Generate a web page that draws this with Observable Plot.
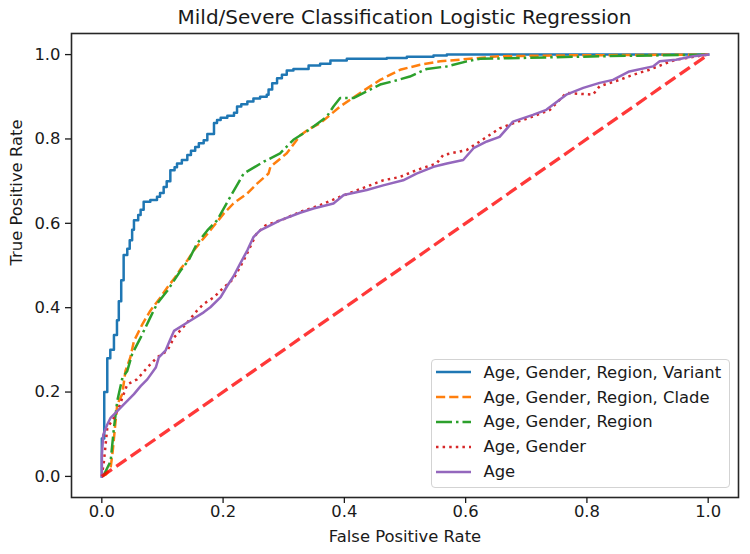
<!DOCTYPE html>
<html>
<head>
<meta charset="utf-8">
<script src="https://cdn.jsdelivr.net/npm/d3@7"></script>
<script src="https://cdn.jsdelivr.net/npm/@observablehq/plot@0.6"></script>
<style>
  body { margin: 0; background: #fff; }
  #wrap { position: relative; width: 750px; height: 554px; font-family: "DejaVu Sans", sans-serif; color: #1a1a1a; }
  #title { box-sizing: border-box; height: 32px; padding: 7px 0 0 59px; font-size: 20px; line-height: 20px; text-align: center; white-space: nowrap; }
  #chart svg { display: block; }
  #legend { position: absolute; left: 431px; top: 359px; width: 297px; height: 127px; border: 1px solid #d3d3d3; border-radius: 4px; background: rgba(255,255,255,0.85); box-sizing: content-box; }
  .row { display: flex; align-items: center; height: 24.8px; }
  .row svg { margin-left: 3.5px; flex: none; }
  .row span { margin-left: 13px; font-size: 16.4px; white-space: nowrap; }
</style>
</head>
<body>
<div id="wrap">
  <div id="title"></div>
  <div id="chart"></div>
  <div id="legend"></div>
</div>
<script>
// ---------- data ----------
const chartTitle = "Mild/Severe Classification Logistic Regression";
const xLabel = "False Positive Rate";
const yLabel = "True Positive Rate";
const xTicks = [0, 0.2, 0.4, 0.6, 0.8, 1.0];
const yTicks = [0, 0.2, 0.4, 0.6, 0.8, 1.0];
const seriesLabels = ["Age, Gender, Region, Variant", "Age, Gender, Region, Clade", "Age, Gender, Region", "Age, Gender", "Age"];

const variantFpr = [0, 0, 0.004, 0.009, 0.014, 0.02, 0.025, 0.028, 0.032, 0.036, 0.042, 0.046, 0.050, 0.053, 0.06, 0.064, 0.069, 0.08, 0.091, 0.096, 0.102, 0.107, 0.113, 0.12, 0.124, 0.132, 0.141, 0.147, 0.154, 0.16, 0.168, 0.174, 0.185, 0.19, 0.196, 0.207, 0.218, 0.223, 0.23, 0.24, 0.25, 0.261, 0.272, 0.275, 0.281, 0.289, 0.297, 0.305, 0.316, 0.33, 0.341, 0.36, 0.377, 0.404, 0.47, 0.503, 0.547, 0.569, 1.0];
const variantTpr = [0, 0.09, 0.20, 0.28, 0.30, 0.335, 0.37, 0.415, 0.465, 0.525, 0.54, 0.56, 0.585, 0.607, 0.62, 0.632, 0.651, 0.655, 0.663, 0.672, 0.686, 0.70, 0.726, 0.733, 0.742, 0.75, 0.762, 0.772, 0.781, 0.79, 0.797, 0.812, 0.838, 0.845, 0.85, 0.855, 0.862, 0.877, 0.882, 0.889, 0.896, 0.90, 0.905, 0.917, 0.932, 0.944, 0.952, 0.962, 0.966, 0.966, 0.974, 0.978, 0.986, 0.99, 0.992, 0.995, 0.998, 1.0, 1.0];

const cladeFpr = [0, 0.007, 0.0145, 0.018, 0.0227, 0.0255, 0.0337, 0.039, 0.047, 0.053, 0.067, 0.080, 0.097, 0.108, 0.121, 0.130, 0.141, 0.152, 0.163, 0.174, 0.201, 0.217, 0.240, 0.256, 0.275, 0.278, 0.305, 0.327, 0.341, 0.360, 0.393, 0.426, 0.459, 0.492, 0.525, 0.558, 0.591, 0.656, 0.75, 1.0];
const cladeTpr = [0, 0.005, 0.02, 0.06, 0.131, 0.171, 0.195, 0.25, 0.282, 0.321, 0.361, 0.393, 0.425, 0.448, 0.472, 0.492, 0.512, 0.536, 0.556, 0.575, 0.623, 0.647, 0.671, 0.694, 0.718, 0.734, 0.766, 0.808, 0.823, 0.837, 0.877, 0.909, 0.940, 0.964, 0.976, 0.984, 0.988, 0.996, 0.998, 1.0];

const regionFpr = [0, 0.0035, 0.0145, 0.02, 0.0255, 0.034, 0.042, 0.05, 0.064, 0.080, 0.091, 0.108, 0.119, 0.130, 0.143, 0.157, 0.174, 0.190, 0.212, 0.234, 0.267, 0.294, 0.316, 0.341, 0.371, 0.382, 0.393, 0.415, 0.437, 0.459, 0.481, 0.508, 0.536, 0.569, 0.602, 0.624, 0.821, 1.0];
const regionTpr = [0, 0.004, 0.036, 0.115, 0.179, 0.234, 0.25, 0.29, 0.329, 0.377, 0.409, 0.44, 0.464, 0.488, 0.512, 0.552, 0.583, 0.607, 0.663, 0.718, 0.746, 0.766, 0.798, 0.821, 0.853, 0.877, 0.897, 0.897, 0.913, 0.929, 0.937, 0.948, 0.966, 0.972, 0.984, 0.990, 0.996, 1.0];

const genderFpr = [0, 0.0035, 0.009, 0.020, 0.028, 0.036, 0.042, 0.058, 0.075, 0.091, 0.108, 0.119, 0.141, 0.157, 0.168, 0.185, 0.201, 0.217, 0.234, 0.245, 0.255, 0.27, 0.30, 0.327, 0.360, 0.393, 0.464, 0.492, 0.519, 0.552, 0.563, 0.602, 0.635, 0.656, 0.678, 0.711, 0.739, 0.766, 0.810, 0.821, 0.854, 0.876, 0.903, 0.931, 0.947, 1.0];
const genderTpr = [0, 0.036, 0.115, 0.139, 0.163, 0.195, 0.218, 0.230, 0.258, 0.282, 0.298, 0.329, 0.365, 0.393, 0.409, 0.425, 0.448, 0.468, 0.512, 0.545, 0.575, 0.595, 0.61, 0.627, 0.643, 0.663, 0.702, 0.710, 0.726, 0.742, 0.762, 0.774, 0.805, 0.825, 0.837, 0.853, 0.869, 0.909, 0.905, 0.925, 0.940, 0.952, 0.964, 0.980, 0.988, 1.0];

const ageFpr = [0, 0, 0.0024, 0.009, 0.0145, 0.023, 0.031, 0.042, 0.053, 0.064, 0.075, 0.089, 0.094, 0.105, 0.113, 0.119, 0.141, 0.168, 0.179, 0.196, 0.207, 0.217, 0.228, 0.240, 0.250, 0.261, 0.272, 0.294, 0.327, 0.349, 0.382, 0.399, 0.437, 0.464, 0.497, 0.519, 0.547, 0.569, 0.596, 0.613, 0.635, 0.656, 0.678, 0.711, 0.733, 0.766, 0.794, 0.821, 0.843, 0.870, 0.909, 0.920, 0.947, 0.975, 1.0];
const ageTpr = [0, 0.05, 0.099, 0.123, 0.139, 0.151, 0.163, 0.179, 0.195, 0.214, 0.230, 0.258, 0.282, 0.298, 0.325, 0.345, 0.365, 0.389, 0.401, 0.425, 0.452, 0.474, 0.504, 0.536, 0.567, 0.583, 0.591, 0.607, 0.625, 0.635, 0.647, 0.667, 0.679, 0.690, 0.702, 0.718, 0.734, 0.742, 0.750, 0.778, 0.794, 0.805, 0.841, 0.857, 0.869, 0.905, 0.921, 0.933, 0.940, 0.960, 0.972, 0.984, 0.988, 0.996, 1.0];

const chanceFpr = [0, 1];
const chanceTpr = [0, 1];

// ---------- styles ----------
const seriesFpr = [variantFpr, cladeFpr, regionFpr, genderFpr, ageFpr];
const seriesTpr = [variantTpr, cladeTpr, regionTpr, genderTpr, ageTpr];
const seriesStyle = [
  {stroke: "#1f77b4", dash: null, curve: "step-after", cap: "square"},
  {stroke: "#ff7f0e", dash: "9.2 4", curve: "linear", cap: "butt"},
  {stroke: "#2ca02c", dash: "16 4 2.5 4", curve: "linear", cap: "butt"},
  {stroke: "#d62728", dash: "2.5 4.1", curve: "linear", cap: "butt"},
  {stroke: "#9467bd", dash: null, curve: "linear", cap: "square"}
];
const lineW = 2.5;

document.getElementById("title").textContent = chartTitle;

const curveMarks = seriesFpr.map((fpr, i) => Plot.line(fpr, {
  x: fpr,
  y: seriesTpr[i],
  stroke: seriesStyle[i].stroke,
  strokeWidth: lineW,
  strokeDasharray: seriesStyle[i].dash,
  strokeLinecap: seriesStyle[i].cap,
  strokeLinejoin: "round",
  curve: seriesStyle[i].curve
}));

const fmt = d3.format(".1f");
const chart = Plot.plot({
  width: 750,
  height: 522,
  marginLeft: 71,
  marginRight: 12,
  marginTop: 1,
  marginBottom: 57,
  style: {fontFamily: "DejaVu Sans, sans-serif", fontSize: "16.4px", color: "#1a1a1a", background: "white", overflow: "visible"},
  x: {domain: [-0.05, 1.05]},
  y: {domain: [-0.05, 1.05]},
  marks: [
    ...curveMarks,
    Plot.line(chanceFpr, {x: chanceFpr, y: chanceTpr, stroke: "#ff0000", strokeOpacity: 0.78, strokeWidth: 3.3, strokeDasharray: "12.3 5.3", strokeLinecap: "butt"}),
    Plot.frame({stroke: "#262626", strokeWidth: 1.6}),
    Plot.axisX({ticks: xTicks, tickFormat: fmt, tickSize: 6, tickPadding: 2, label: null, strokeWidth: 1.3, fontSize: 16.4}),
    Plot.axisY({ticks: yTicks, tickFormat: fmt, tickSize: 6, tickPadding: 5, label: null, strokeWidth: 1.3, fontSize: 16.4}),
    Plot.text([xLabel], {text: d => d, frameAnchor: "bottom", dy: 44, fontSize: 16.4, fill: "#1a1a1a"}),
    Plot.text([yLabel], {text: d => d, frameAnchor: "left", dx: -55, rotate: -90, fontSize: 16.4, fill: "#1a1a1a"})
  ]
});
document.getElementById("chart").appendChild(chart);

// ---------- legend ----------
const legend = document.getElementById("legend");
seriesLabels.forEach((label, i) => {
  const st = seriesStyle[i];
  const row = document.createElement("div");
  row.className = "row";
  const ns = "http://www.w3.org/2000/svg";
  const svg = document.createElementNS(ns, "svg");
  svg.setAttribute("width", "35");
  svg.setAttribute("height", "10");
  const ln = document.createElementNS(ns, "line");
  ln.setAttribute("x1", "0"); ln.setAttribute("x2", "35");
  ln.setAttribute("y1", "5"); ln.setAttribute("y2", "5");
  ln.setAttribute("stroke", st.stroke);
  ln.setAttribute("stroke-width", lineW);
  if (st.dash) ln.setAttribute("stroke-dasharray", st.dash);
  svg.appendChild(ln);
  const span = document.createElement("span");
  span.textContent = label;
  row.appendChild(svg);
  row.appendChild(span);
  legend.appendChild(row);
});
</script>
</body>
</html>
